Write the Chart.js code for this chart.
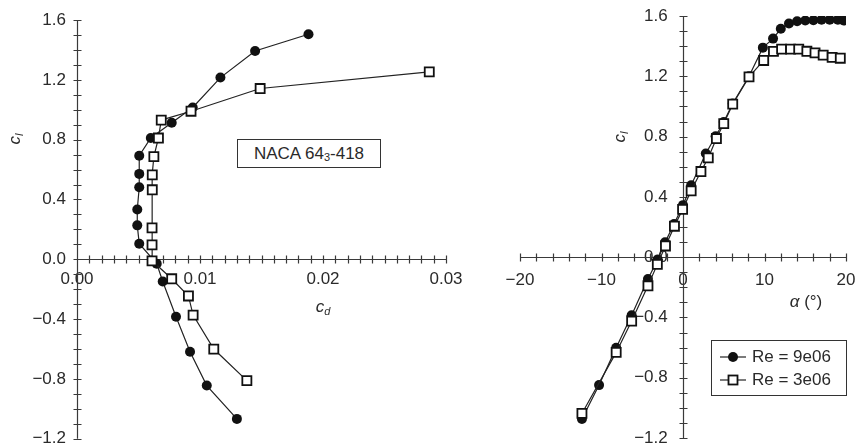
<!DOCTYPE html>
<html>
<head>
<meta charset="utf-8">
<script src="https://cdn.jsdelivr.net/npm/chart.js@4"></script>
<style>
  body { margin: 0; background: #fff; font-family: "Liberation Sans", Arial, sans-serif; color: #2a2a2a; }
  #wrap { position: relative; width: 857px; height: 447px; }
  canvas { position: absolute; top: 0; }
  .lbl { position: absolute; font-size: 17px; white-space: nowrap; transform: translate(-50%, -50%); }
  .lbl sub { font-size: 11px; vertical-align: -3px; }
  .box { position: absolute; border: 1px solid #333; box-sizing: border-box; font-size: 17px; background: #fff; }
  .row { position: absolute; left: 8px; height: 20px; display: flex; align-items: center; }
  .row svg { margin-right: 6px; }
</style>
</head>
<body>
<div id="wrap">
  <canvas id="polar" width="465" height="447" style="left:0"></canvas>
  <canvas id="lift" width="392" height="447" style="left:465px"></canvas>

  <div class="lbl" style="left:15px; top:139px; transform: translate(-50%,-50%) rotate(-90deg)"><i>c</i><sub><i>l</i></sub></div>
  <div class="lbl" style="left:323px; top:307px"><i>c</i><sub><i>d</i></sub></div>
  <div class="box" style="left:237px; top:139px; width:144px; height:29px; text-align:center; line-height:27px">NACA 64<sub style="font-size:11px; vertical-align:-2px">3</sub>-418</div>

  <div class="lbl" style="left:620px; top:137px; transform: translate(-50%,-50%) rotate(-90deg)"><i>c</i><sub><i>l</i></sub></div>
  <div class="lbl" style="left:806px; top:302px"><i>α</i> (°)</div>

  <div class="box" style="left:711px; top:340px; width:136px; height:56px">
    <div class="row" style="top:6px">
      <svg width="26" height="14"><line x1="0" y1="7" x2="26" y2="7" stroke="#222" stroke-width="1.2"/><circle cx="13" cy="7" r="5" fill="#111"/></svg>Re = 9e06
    </div>
    <div class="row" style="top:29px">
      <svg width="26" height="14"><line x1="0" y1="7" x2="26" y2="7" stroke="#222" stroke-width="1.2"/><rect x="8.5" y="2.5" width="9" height="9" fill="#fff" stroke="#111" stroke-width="1.8"/></svg>Re = 3e06
    </div>
  </div>
</div>

<script>
  // drag polar, Re = 9e06 (filled circles)
  const cdPolar9 = [0.0130, 0.01055, 0.00919, 0.00805, 0.00697, 0.00648, 0.00506, 0.0049, 0.0049, 0.00506, 0.00506, 0.00506, 0.0060, 0.0077, 0.00941, 0.01166, 0.01448, 0.01882];
  const clPolar9 = [-1.067, -0.844, -0.618, -0.384, -0.148, -0.029, 0.104, 0.227, 0.333, 0.482, 0.571, 0.693, 0.811, 0.913, 1.015, 1.215, 1.393, 1.505];
  // drag polar, Re = 3e06 (open squares)
  const cdPolar3 = [0.01381, 0.01112, 0.00944, 0.00906, 0.0077, 0.0061, 0.0061, 0.0061, 0.00612, 0.00612, 0.00625, 0.00662, 0.00685, 0.00927, 0.01489, 0.02864];
  const clPolar3 = [-0.811, -0.6, -0.373, -0.245, -0.13, -0.01, 0.097, 0.21, 0.465, 0.565, 0.687, 0.811, 0.931, 0.99, 1.142, 1.253];

  // lift curve, Re = 9e06
  const alpha9 = [-12.4, -10.3, -8.2, -6.3, -4.3, -3.1, -2.2, -1.1, 0, 1.0, 2.8, 4.0, 5.0, 6.1, 8.1, 9.8, 11.05, 12.0, 13, 14, 15, 16, 17, 18, 19, 19.7];
  const clLift9 = [-1.074, -0.849, -0.601, -0.385, -0.145, -0.015, 0.098, 0.22, 0.345, 0.477, 0.688, 0.802, 0.897, 1.019, 1.2, 1.39, 1.45, 1.515, 1.55, 1.565, 1.57, 1.572, 1.575, 1.575, 1.575, 1.57];
  // lift curve, Re = 3e06
  const alpha3 = [-12.4, -8.2, -6.3, -4.3, -3.15, -2.15, -1.05, -0.05, 1.0, 2.2, 3.1, 4.1, 5.0, 6.1, 8.1, 9.9, 11.1, 12.1, 13.2, 14.2, 15.2, 16.2, 17.2, 18.3, 19.3];
  const clLift3 = [-1.037, -0.632, -0.424, -0.19, -0.048, 0.074, 0.205, 0.317, 0.44, 0.568, 0.659, 0.787, 0.886, 1.015, 1.196, 1.305, 1.365, 1.38, 1.38, 1.38, 1.366, 1.355, 1.34, 1.325, 1.32];

  // tick labels
  const cdTickLabels = ["0.00", "0.01", "0.02", "0.03"];
  const alphaTickLabels = ["\u221220", "\u221210", "0", "10", "20"];
  const clTickLabels = ["\u22121.2", "\u22120.8", "\u22120.4", "0.0", "0.4", "0.8", "1.2", "1.6"];

  const AXIS = "#3a3a3a";
  const TEXT = "#2a2a2a";
  const TICK = 4;
  const font = { family: "'Liberation Sans', Arial, sans-serif", size: 17 };

  const pts = (xs, ys) => xs.map((v, i) => ({ x: v, y: ys[i] }));

  function circles(xs, ys) {
    return {
      data: pts(xs, ys), showLine: true, order: 1,
      borderColor: "#222", borderWidth: 1.2,
      pointStyle: "circle", pointRadius: 5,
      pointBackgroundColor: "#111", pointBorderColor: "#111", pointBorderWidth: 0
    };
  }
  function squares(xs, ys) {
    return {
      data: pts(xs, ys), showLine: true, order: 0,
      borderColor: "#222", borderWidth: 1.2,
      pointStyle: "rect", pointRadius: 6.4,
      pointBackgroundColor: "#fff", pointBorderColor: "#111", pointBorderWidth: 1.8
    };
  }

  // axes cross at (0, 0): draw axis lines and ticks through both sides
  const crossAxes = {
    id: "crossAxes",
    beforeDatasetsDraw(chart) {
      const { ctx, scales: { x, y } } = chart;
      const x0 = Math.round(x.getPixelForValue(0)) + 0.5;
      const y0 = Math.round(y.getPixelForValue(0)) + 0.5;
      ctx.save();
      ctx.strokeStyle = AXIS;
      ctx.lineWidth = 1.2;
      ctx.beginPath();
      ctx.moveTo(x.left, y0); ctx.lineTo(x.right, y0);
      ctx.moveTo(x0, y.top); ctx.lineTo(x0, y.bottom);
      x.ticks.forEach(t => {
        const px = Math.round(x.getPixelForValue(t.value)) + 0.5;
        ctx.moveTo(px, y0 - TICK); ctx.lineTo(px, y0 + TICK);
      });
      y.ticks.forEach(t => {
        const py = Math.round(y.getPixelForValue(t.value)) + 0.5;
        ctx.moveTo(x0 - TICK, py); ctx.lineTo(x0 + TICK, py);
      });
      ctx.stroke();
      ctx.restore();
    }
  };

  const noPad = s => { s.paddingTop = 0; s.paddingBottom = 0; s.paddingLeft = 0; s.paddingRight = 0; };

  // every: label only every n-th minor step; gap: trailing spaces to push labels off a centred axis
  function axis(min, max, step, every, position, labels, fmt, pad, gap, extra) {
    return Object.assign({
      type: "linear", min, max, position,
      grid: { drawOnChartArea: false, color: "rgba(0,0,0,0)", tickLength: TICK },
      border: { display: false },
      ticks: {
        stepSize: step, autoSkip: false, maxRotation: 0, maxTicksLimit: 200,
        padding: pad, color: TEXT, font,
        callback: v => {
          if (Math.round(v / step) % every !== 0) return "";
          const s = fmt(v);
          return labels.includes(s) ? s + (gap || "") : "";
        }
      },
      afterFit: noPad
    }, extra || {});
  }

  const fmtSigned = d => v => {
    const r = Math.abs(v) < 1e-9 ? 0 : v;
    return (r < 0 ? "\u2212" : "") + Math.abs(r).toFixed(d);
  };

  const common = {
    type: "scatter",
    plugins: [crossAxes]
  };

  new Chart(document.getElementById("polar"), Object.assign({}, common, {
    data: { datasets: [circles(cdPolar9, clPolar9), squares(cdPolar3, clPolar3)] },
    options: {
      responsive: false, animation: false,
      layout: { padding: { top: 20, bottom: 8, left: 0, right: 19 } },
      plugins: { legend: { display: false }, tooltip: { enabled: false } },
      scales: {
        x: axis(0, 0.03, 0.001, 10, { y: 0 }, cdTickLabels, fmtSigned(2), 6),
        y: axis(-1.2, 1.6, 0.1, 4, "left", clTickLabels, fmtSigned(1), 7, "", {
          afterFit: s => { noPad(s); s.width = 77; }
        })
      }
    }
  }));

  new Chart(document.getElementById("lift"), Object.assign({}, common, {
    data: { datasets: [circles(alpha9, clLift9), squares(alpha3, clLift3)] },
    options: {
      responsive: false, animation: false,
      layout: { padding: { top: 16, bottom: 9, left: 55, right: 11 } },
      plugins: { legend: { display: false }, tooltip: { enabled: false } },
      scales: {
        x: axis(-20, 20, 2, 5, { y: 0 }, alphaTickLabels, fmtSigned(0), 9),
        y: axis(-1.2, 1.6, 0.1, 4, { x: 0 }, clTickLabels, fmtSigned(1), 10, "\u2002\u2009\u2009")
      }
    }
  }));
</script>
</body>
</html>
